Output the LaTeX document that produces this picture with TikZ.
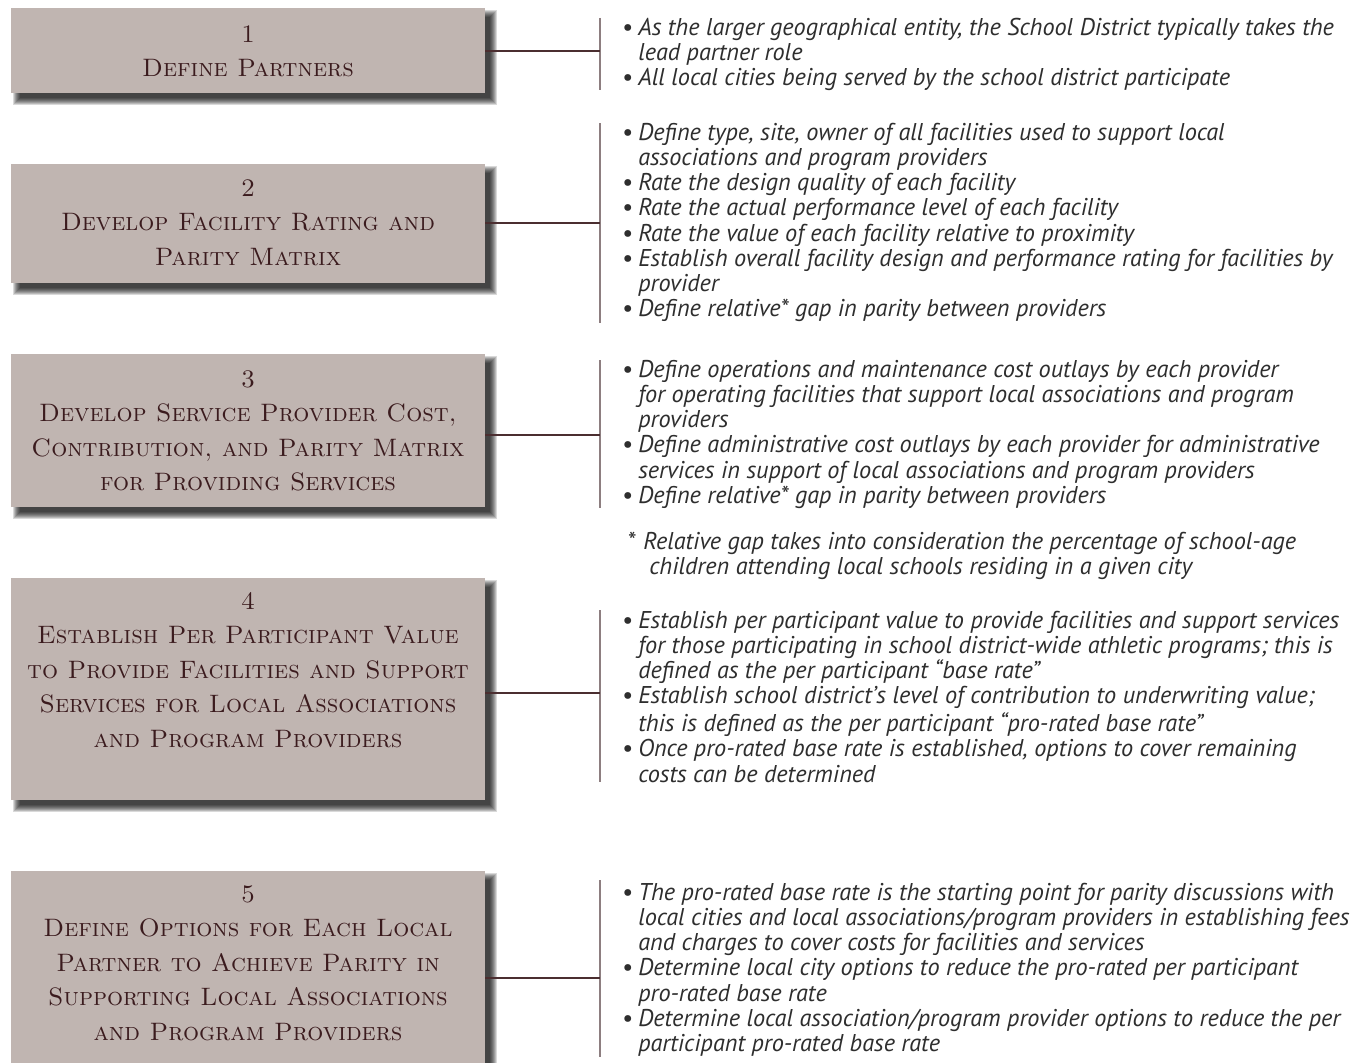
\documentclass[tikz,border=0pt]{standalone}
\usepackage{fontspec}
\usetikzlibrary{backgrounds}
\newfontfamily\bodyfont{PT Sans}
\definecolor{boxfill}{HTML}{C0B5B1}
\definecolor{boxtext}{HTML}{3B1B1E}
\definecolor{conncol}{HTML}{4B2E30}
\definecolor{barcol}{HTML}{8D7E80}
\definecolor{bodytext}{HTML}{2E2E2E}
\tikzset{
 box/.style={fill=boxfill, draw=none, inner sep=0pt, minimum width=355.5pt},
 boxtxt/.style={align=center, inner sep=0pt, text=boxtext, anchor=north,
   font=\fontsize{18.9}{25.9}\selectfont\scshape},
 body/.style={align=left, inner sep=0pt, text=bodytext, anchor=north west,
   font=\bodyfont\itshape\fontsize{18.2}{18.9}\selectfont},
 conn/.style={draw=conncol, line width=1pt},
 barline/.style={draw=barcol, line width=1.1pt},
}
\newcommand\bl{\strut\makebox[12pt][l]{\upshape\textbullet}}
\newcommand\ct{\hspace*{12pt}}
\begin{document}
\begin{tikzpicture}[x=0.75pt,y=-0.75pt]
\useasboundingbox (0,0) rectangle (1367,1063);
\clip (0,0) rectangle (1367,1063);
% boxes
\node[box, minimum height=63.75pt] (b1) at (248,50.5) {};
\node[box, minimum height=89.25pt] (b2) at (248,223.5) {};
\node[box, minimum height=114.75pt] (b3) at (248,430.5) {};
\node[box, minimum height=166.5pt] (b4) at (248,689) {};
\node[box, minimum height=164.25pt] (b5) at (248,980.5) {};
\begin{scope}[on background layer]
\fill[white] (0,0) rectangle (1367,1063);
\foreach \n in {b1,b2,b3,b4,b5}{
  \foreach \e in {5,4,...,-2}{
    \fill[black,opacity=0.15] ([shift={(7-\e,7-\e)}]\n.north west) rectangle ([shift={(7+\e,7+\e)}]\n.south east);
  }
}
\end{scope}
% box texts
\node[boxtxt] (t1) at (248,17.8) {\strut 1\\Define Partners};
\node[boxtxt] (t2) at (248,171.8) {\strut 2\\Develop Facility Rating and\\Parity Matrix};
\node[boxtxt] (t3) at (248,362.8) {\strut 3\\Develop Service Provider Cost,\\Contribution, and Parity Matrix\\for Providing Services};
\node[boxtxt] (t4) at (248,584.8) {\strut 4\\Establish Per Participant Value\\to Provide Facilities and Support\\Services for Local Associations\\and Program Providers};
\node[boxtxt] (t5) at (248,877.8) {\strut 5\\Define Options for Each Local\\Partner to Achieve Parity in\\Supporting Local Associations\\and Program Providers};
% bars
\coordinate (a1) at (600,18);  \coordinate (z1) at (600,90);  \coordinate (j1) at (600,51);
\coordinate (a2) at (600,123); \coordinate (z2) at (600,323); \coordinate (j2) at (600,223);
\coordinate (a3) at (600,360); \coordinate (z3) at (600,508); \coordinate (j3) at (600,435);
\coordinate (a4) at (600,610); \coordinate (z4) at (600,782); \coordinate (j4) at (600,693);
\coordinate (a5) at (600,880); \coordinate (z5) at (600,1057); \coordinate (j5) at (600,978);
\foreach \i in {1,...,5}{
  \draw[barline] (a\i) -- (z\i);
  \draw[conn] (j\i -| b\i.east) -- (j\i);
}
% body texts
\node[body] (r1) at (622,17.4) {\bl As the larger geographical entity, the School District typically takes the\\
\ct lead partner role\\
\bl All local cities being served by the school district participate};
\node[body] (r2) at (622,122.4) {\bl Define type, site, owner of all facilities used to support local\\
\ct associations and program providers\\
\bl Rate the design quality of each facility\\
\bl Rate the actual performance level of each facility\\
\bl Rate the value of each facility relative to proximity\\
\bl Establish overall facility design and performance rating for facilities by\\
\ct provider\\
\bl Define relative* gap in parity between providers};
\node[body] (r3) at (622,359.4) {\bl Define operations and maintenance cost outlays by each provider\\
\ct for operating facilities that support local associations and program\\
\ct providers\\
\bl Define administrative cost outlays by each provider for administrative\\
\ct services in support of local associations and program providers\\
\bl Define relative* gap in parity between providers};
\node[body] (fn) at (627,531.4) {\strut\makebox[12pt][l]{*}Relative gap takes into consideration the percentage of school-age\\
\hspace*{16.5pt}children attending local schools residing in a given city};
\node[body] (r4) at (622,610.4) {\bl Establish per participant value to provide facilities and support services\\
\ct for those participating in school district-wide athletic programs; this is\\
\ct defined as the per participant “base rate”\\
\bl Establish school district’s level of contribution to underwriting value;\\
\ct this is defined as the per participant “pro-rated base rate”\\
\bl Once pro-rated base rate is established, options to cover remaining\\
\ct costs can be determined};
\node[body] (r5) at (622,882.4) {\bl The pro-rated base rate is the starting point for parity discussions with\\
\ct local cities and local associations/program providers in establishing fees\\
\ct and charges to cover costs for facilities and services\\
\bl Determine local city options to reduce the pro-rated per participant\\
\ct pro-rated base rate\\
\bl Determine local association/program provider options to reduce the per\\
\ct participant pro-rated base rate};
\end{tikzpicture}
\end{document}
